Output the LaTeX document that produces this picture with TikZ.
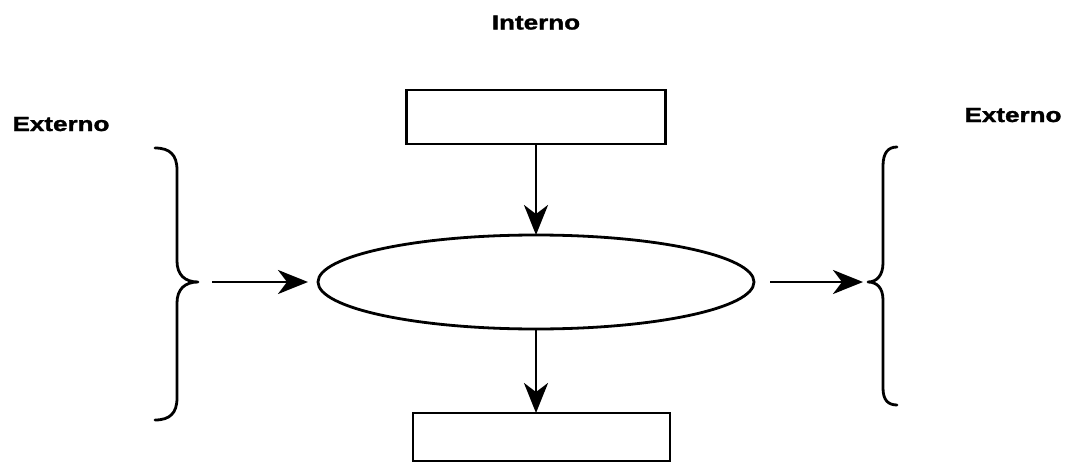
\documentclass[tikz,border=0pt]{standalone}
\usepackage{fontspec}
\setmainfont{Liberation Sans}
\newfontfamily\lblfont[BoldFeatures={FakeBold=1.3}]{Liberation Sans}
\usetikzlibrary{shapes.geometric,arrows.meta}
\begin{document}
\begin{tikzpicture}[x=1pt,y=-1pt,
  line width=2.8pt,
  label/.style={font=\lblfont\fontsize{20.5}{22}\selectfont\bfseries, inner sep=0pt, anchor=base, xscale=1.27, transform shape},
  procbox/.style={draw, rectangle, inner sep=0pt, outer sep=0pt},
  proc/.style={draw, ellipse, inner sep=0pt, outer sep=0pt, minimum width=436pt, minimum height=94pt},
  flow/.style={-{Stealth[length=30pt,width=24pt,inset=9pt]}},
  bracepath/.style={line width=2.8pt, line cap=round, line join=round}]
\useasboundingbox (0,0) rectangle (1072,463);

% labels
\node[label] (int) at (536,29.5) {Interno};
\node[label] (extl) at (61,131) {Externo};
\node[label] (extr) at (1013,122) {Externo};

% process and boxes
\node[proc] (el) at (536,282) {};
\node[procbox, minimum width=259pt, minimum height=54pt] (tb) at (536,117) {};
\node[procbox, minimum width=257pt, minimum height=48pt] (bb) at (541.5,437) {};

% brace tips
\coordinate (lt) at (198,282);
\coordinate (rt) at (868,282);

% left brace
\draw[bracepath] (155,148) .. controls (170,148) and (177,155) .. (177,170)
  -- (177,261) .. controls (177,275) and (185,282) .. (lt)
  .. controls (185,282) and (177,289) .. (177,303)
  -- (177,398) .. controls (177,413) and (170,420) .. (155,420);

% right brace
\draw[bracepath] (897,147) .. controls (888,147) and (883,153) .. (883,166)
  -- (883,263) .. controls (883,275) and (877,282) .. (rt)
  .. controls (877,282) and (883,288) .. (883,300)
  -- (883,388) .. controls (883,400) and (888,405) .. (897,405);

% connectors
\draw[flow] (tb.south) -- (el.north);
\draw[flow] (el.south) -- (el.south |- bb.north);
\draw[flow, shorten <=14pt, shorten >=10pt] (lt) -- (el.west);
\draw[flow, shorten <=16pt, shorten >=5pt] (el.east) -- (rt);
\end{tikzpicture}
\end{document}
